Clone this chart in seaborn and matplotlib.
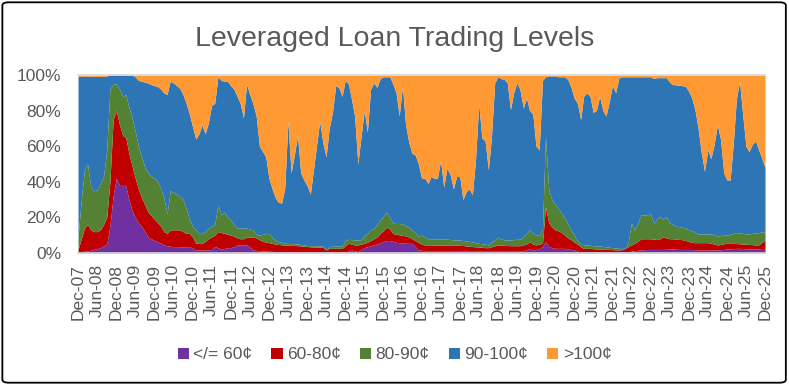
import matplotlib
matplotlib.use("Agg")
import matplotlib.pyplot as plt
import matplotlib.dates as mdates
from matplotlib.patches import Patch, FancyBboxPatch
from matplotlib.ticker import FuncFormatter
import numpy as np
import pandas as pd
import seaborn as sns

# ── Data (cumulative share of loans priced at or below each level, %) ─────────
# monthly, Dec-07 .. Dec-25 ; first value is Dec-07, then one row per year Jan..Dec
months = pd.date_range("2007-12-01", periods=217, freq="MS")

top_60 = [0.5,
    0.8, 1, 1.2, 1.5, 2, 2.5, 3, 4, 5, 15, 32, 42,                     # 2008
    38, 38, 38, 30, 24, 20, 17, 15, 12, 9, 8, 7,                       # 2009
    6.4, 5.5, 4.5, 4, 3.8, 3.6, 3.6, 3.5, 3.5, 3.5, 3.6, 2.8,          # 2010
    1.7, 1.7, 1.7, 1.7, 1.7, 2, 3.6, 3, 2.2, 2.5, 3, 3,                # 2011
    3.5, 4.5, 4.5, 4.5, 4.5, 3.5, 1.7, 1.5, 1.3, 1.2, 1.1, 1,          # 2012
    0.9, 0.8, 0.8, 0.7, 0.7, 0.7, 0.7, 0.6, 0.6, 0.6, 0.6, 0.6,        # 2013
    0.6, 0.6, 0.6, 0.6, 0.6, 0.6, 0.6, 0.6, 0.6, 0.6, 0.6, 0.6,        # 2014
    1, 1.7, 1.2, 0.7, 1.8, 3, 3.6, 4, 4.6, 5, 5.8, 6.5,                # 2015
    7, 7, 6.5, 6, 5.8, 5.6, 5.5, 5.4, 5.4, 3.5, 1.7, 1.5,              # 2016
    1.3, 1.3, 1.3, 1.3, 1.3, 1.3, 1.3, 1.3, 1.3, 1.3, 1.3, 1.3,        # 2017
    1.3, 1.3, 1.3, 1.3, 1.3, 1.3, 1.3, 1.3, 1.3, 1.3, 1.3, 1.3,        # 2018
    1.3, 1.3, 1.3, 1.3, 1.3, 1.3, 1.3, 1.3, 1.8, 2.6, 1.5, 2,          # 2019
    2.5, 3.6, 6.4, 3.6, 3, 2.6, 2.6, 2.6, 2.6, 2.2, 2, 1.7,            # 2020
    1, 0.7, 0.7, 0.7, 0.7, 0.7, 0.7, 0.7, 0.7, 0.7, 0.7, 0.7,          # 2021
    0.7, 0.7, 0.7, 0.7, 0.8, 1, 1.3, 1.5, 1.7, 1.8, 2, 2,              # 2022
    2, 2, 2, 2, 2.1, 2.2, 2.2, 2.1, 2, 2, 2, 2,                        # 2023
    2, 1.8, 1.7, 1.7, 1.7, 1.7, 1.7, 1.7, 1.7, 1.8, 2, 2.2,            # 2024
    2.4, 2.5, 2.6, 2.6, 2.5, 2.4, 2.3, 2.2, 2.3, 2.4, 2.5, 2.6]        # 2025

top_80 = [2,
    8, 14, 16, 13, 12, 12, 13, 16, 20, 40, 75, 80,
    72, 66, 65, 56, 49, 42, 36, 31, 27, 23, 21, 19,
    17, 15, 12, 11, 13, 13, 13, 13, 12, 11, 11, 9,
    5.5, 5.4, 5.4, 6.5, 8, 9, 10, 12, 11.5, 11, 10.5, 10,
    9.5, 8.5, 8, 8, 9, 9, 9, 8.5, 7.5, 6.5, 6.2, 5.8,
    5.4, 5, 4.8, 4.6, 4.5, 4.4, 4.3, 4.2, 4.1, 4, 3.8, 3.6,
    3.5, 3.4, 3.3, 3.2, 3.2, 1.7, 2.6, 2.6, 2.6, 2.6, 2.6, 4,
    5.4, 5, 4.5, 4.5, 5, 5.4, 6, 7, 8, 9, 11, 12.5,
    14.5, 13.5, 11, 10.5, 10.2, 10, 9.5, 9, 8, 7, 6, 5,
    4.5, 4.5, 4.5, 4.5, 4.5, 4.5, 4.5, 4.5, 4.5, 4.5, 4.5, 4.3,
    4.2, 4, 3.8, 3.6, 3.5, 3.4, 3.2, 3, 3, 3.5, 4, 4.5,
    4.5, 4.3, 4.2, 4.1, 4.1, 4.1, 4.1, 4.5, 5, 6.4, 5, 4.5,
    5, 5.5, 26, 17, 14.5, 13, 12.5, 11.5, 10, 8.5, 7.5, 6,
    5, 3.5, 2.6, 2.6, 2.6, 2.4, 2.3, 2.2, 2, 2, 2, 1.9,
    1.8, 1.7, 1.8, 2.6, 3.5, 4.5, 5.4, 6.5, 8, 8, 8, 8,
    7.8, 7.5, 8, 9, 8.5, 8, 8, 7.8, 7.6, 7.5, 7, 6.5,
    6, 5.8, 5.8, 5.8, 5.8, 5.8, 5.5, 5, 4.5, 4.8, 5.2, 5.4,
    5.4, 5.4, 5.3, 5.2, 5, 5, 4.8, 4.7, 4.5, 4.5, 6, 7]

top_90 = [9,
    30, 47, 50, 37, 35, 35.5, 39, 43, 58, 92, 95, 95,
    92, 88, 89, 82, 76, 68, 60, 54, 48, 45, 43, 42,
    40, 36, 31, 22, 35, 34, 33, 32, 30, 25, 19, 15,
    13, 11, 11, 12, 14, 15, 16, 27, 21.5, 23, 20, 18.6,
    16, 14, 14, 14, 14, 13.5, 13, 10.5, 10, 10.5, 11, 11,
    9, 7, 6.5, 6, 5.5, 5.4, 5.3, 5.2, 5, 4.8, 4.5, 4.2,
    4.1, 4.1, 4.1, 4, 4, 1.8, 3.6, 3.8, 4, 4, 4, 7,
    7.7, 7.5, 7.4, 7.3, 7.5, 9.8, 11, 13, 14, 16, 18.6, 20.5,
    23, 20, 16.7, 16.6, 16.5, 16.4, 15.5, 14.5, 13, 11.5, 9.5, 10,
    9, 8, 8, 8, 8, 8, 8, 7.8, 7.6, 7.4, 7.3, 7.3,
    7, 6.8, 6.5, 6.2, 5.8, 5.4, 5.2, 5, 4.5, 6, 7.5, 8.8,
    8, 7.3, 7.3, 7.3, 7.5, 7.7, 7.7, 9, 11, 13, 11, 10,
    10, 14, 65.5, 35.5, 30, 27.5, 25, 22.5, 19.5, 16.5, 13, 10,
    7, 5, 4.6, 4.5, 4.3, 4.1, 4, 3.9, 3.7, 3.5, 3.2, 3,
    2.8, 2.6, 2.6, 2.6, 6, 16.7, 13, 17, 21.4, 21.4, 21.5, 22,
    16.7, 19, 20.5, 19, 20.5, 17, 16, 15, 14.8, 14.5, 14, 13,
    12.5, 11.5, 10.7, 10.7, 10.7, 10.7, 10.7, 10.2, 9.6, 9.8, 10, 10,
    10.5, 11, 11.5, 11.3, 11, 10.8, 10.7, 11, 11.3, 11.5, 11.8, 12]

top_100 = [99.4,
    99.4, 99.3, 99.3, 99.3, 99.3, 99.2, 99.2, 99.2, 99.5, 100, 100, 100,
    100, 100, 100, 100, 100, 99, 97, 96.5, 96, 95.5, 94.6, 94,
    93.5, 92, 90, 89, 96.5, 95.5, 94, 92.5, 89, 84, 78, 71,
    64, 67, 72, 67, 73, 83, 84, 99, 97, 96.5, 96.5, 94,
    92, 88, 84, 76, 95, 89, 84, 77, 60, 57, 54, 42,
    36, 31, 28.5, 28, 36, 74, 45, 55, 66, 45, 41, 38,
    33, 47, 60, 74, 62, 54, 70, 79, 94, 93, 88, 97,
    95, 86, 77, 50, 65, 80, 68, 92, 95.6, 93, 98, 99,
    99, 99, 95, 90, 77, 93.7, 72, 62, 56, 55, 50, 42,
    42, 39, 43, 42, 42, 52, 37, 47.7, 44, 36, 43, 43,
    30, 34.5, 36, 32.7, 52, 84, 64.6, 63, 46.8, 65.5, 95.6, 99,
    98, 97.5, 95.6, 80.6, 90, 95.6, 91.8, 81.5, 87, 80, 78, 60,
    58, 97, 99, 99.5, 99.5, 99.5, 99, 99, 99, 97.5, 93, 87,
    84, 75, 88, 90, 88, 79, 80, 88, 80, 77, 85, 94,
    90, 98.4, 99, 99, 99, 99, 99, 99, 99, 99, 99, 99,
    98, 98.5, 98.5, 98.5, 98.5, 96, 94.6, 94.5, 94.2, 94, 93.7, 91,
    87, 80, 70, 56, 46, 58, 53, 61, 72, 64, 45, 41,
    41, 62, 86, 96.5, 78, 60, 57, 61, 63, 58, 53, 48]

labels = ["</= 60¢", "60-80¢", "80-90¢", "90-100¢", ">100¢"]
colors = ["#7030A0", "#C00000", "#548235", "#2E75B6", "#FF9933"]

# ── Style ────────────────────────────────────────────────────────────────────
sns.set_theme(style="white")
plt.rcParams["font.family"] = ["Liberation Sans", "DejaVu Sans"]
TXT = "#595959"
AXL = "#D9D9D9"

df = pd.DataFrame({"month": months, "p60": top_60, "p80": top_80,
                   "p90": top_90, "p100": top_100})
df["all"] = 100.0

fig = plt.figure(figsize=(7.89, 3.85), dpi=100)
ax = fig.add_axes([0.0989, 0.3429, 0.8707, 0.4623])

edges = [None, "p60", "p80", "p90", "p100", "all"]
for i, col in enumerate(colors):
    lower = 0 if edges[i] is None else df[edges[i]]
    ax.fill_between(df["month"], lower, df[edges[i + 1]], color=col,
                    linewidth=0)

ax.set_xlim(months[0], months[-1])
ax.set_ylim(0, 100)
ax.set_yticks(range(0, 101, 20))
ax.yaxis.set_major_formatter(FuncFormatter(lambda v, _: f"{v:.0f}%"))
ax.set_xticks(pd.date_range("2007-12-01", "2025-12-01", freq="6MS"))
ax.xaxis.set_major_formatter(mdates.DateFormatter("%b-%y"))
ax.tick_params(axis="x", rotation=90, colors=TXT, labelsize=12.5,
               length=5, width=1, color=AXL, direction="out", pad=3)
ax.tick_params(axis="y", colors=TXT, labelsize=12.5, length=0, pad=12)
for s in ["left", "right"]:
    ax.spines[s].set_visible(False)
ax.spines["top"].set_color(AXL)
ax.spines["bottom"].set_color(AXL)
ax.spines["bottom"].set_linewidth(1.2)
ax.grid(False)

fig.text(0.5, 0.9, "Leveraged Loan Trading Levels", ha="center",
         va="center", fontsize=20.5, color=TXT)

handles = [Patch(facecolor=c, edgecolor="none") for c in colors]
fig.legend(handles, labels, loc="center", bbox_to_anchor=(0.5, 0.078),
           ncol=5, frameon=False, fontsize=12.5, handlelength=0.65,
           handleheight=0.65, handletextpad=0.25, columnspacing=1.1,
           labelcolor=TXT)

fig.patches.append(FancyBboxPatch((0.003, 0.006), 0.993, 0.988,
                                  boxstyle="round,pad=0,rounding_size=0.008",
                                  transform=fig.transFigure, fill=False,
                                  edgecolor="black", linewidth=1.3))

fig.savefig("out.png", dpi=100)
